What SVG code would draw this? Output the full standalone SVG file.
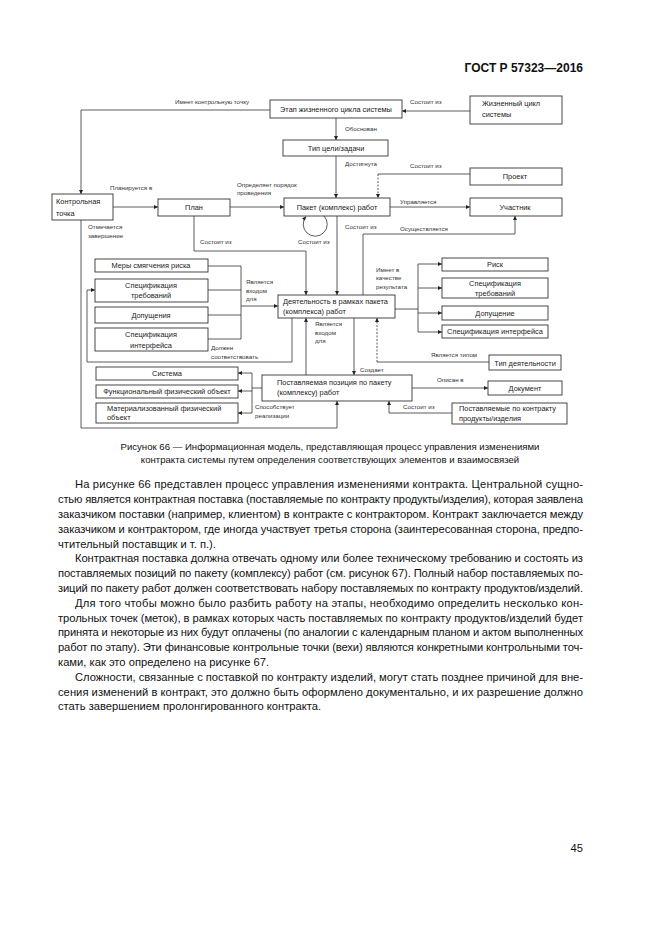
<svg xmlns="http://www.w3.org/2000/svg" width="661" height="935" viewBox="0 0 661 935">
<defs>
<style>
.bx{fill:#fff;stroke:#333;stroke-width:0.9}
.t{font-family:"Liberation Sans",Arial,sans-serif;font-size:7.4px;fill:#222}
.c{text-anchor:middle}
.lb{font-family:"Liberation Sans",Arial,sans-serif;font-size:6.2px;fill:#333}
.ln{fill:none;stroke:#333;stroke-width:0.8}
.ar{fill:none;stroke:#333;stroke-width:0.8;marker-end:url(#ah)}
.ds{stroke-dasharray:2,1.5}
.body{font-family:"Liberation Sans",Arial,sans-serif;font-size:11.2px;fill:#111}
.cap{font-family:"Liberation Sans",Arial,sans-serif;font-size:9.6px;fill:#111;text-anchor:middle}
</style>
<marker id="ah" viewBox="0 0 10 10" refX="10" refY="5" markerWidth="5" markerHeight="4" orient="auto" markerUnits="userSpaceOnUse">
<path d="M0,0 L10,5 L0,10 z" fill="#222"/>
</marker>
</defs>
<rect width="661" height="935" fill="#fff"/>
<text x="583" y="72" text-anchor="end" style="font-family:'Liberation Sans',Arial,sans-serif;font-size:12px;font-weight:bold;fill:#111">ГОСТ Р 57323—2016</text>

<g id="connectors">
<path class="ar" d="M470,111 H402"/>
<text class="lb" x="410" y="104">Состоит из</text>
<path class="ar" d="M270,110 H81 V194"/>
<text class="lb" x="175" y="104">Имеет контрольную точку</text>
<path class="ar" d="M336,118 V140"/>
<text class="lb" x="345" y="131">Обоснован</text>
<path class="ar" d="M336,156 V198"/>
<text class="lb" x="345" y="166">Достигнута</text>
<path class="ln" d="M470,174 H378"/>
<path class="ar ds" d="M378,174 V198"/>
<text class="lb" x="410" y="168">Состоит из</text>
<path class="ar" d="M113,207 H158"/>
<text class="lb" x="110" y="190">Планируется в</text>
<path class="ar" d="M230,207 H284"/>
<text class="lb" x="237" y="187">Определяет порядок</text>
<text class="lb" x="237" y="195">проведения</text>
<path class="ar" d="M390,207 H470"/>
<text class="lb" x="400" y="204">Управляется</text>
<path class="ar" d="M324,216 A12,12 0 1 1 306,216.5"/>
<text class="lb" x="298" y="244">Состоит из</text>
<path class="ar" d="M337,216 V295"/>
<text class="lb" x="345" y="229">Состоит из</text>
<path class="ar" d="M194,216 V251 H306 V295"/>
<text class="lb" x="200" y="244">Состоит из</text>
<path class="ar" d="M363,295 V234 H515 V216"/>
<text class="lb" x="400" y="231">Осуществляется</text>
<path class="ar" d="M81,220 V428 H337 V401"/>
<text class="lb" x="88" y="229">Отмечается</text>
<text class="lb" x="88" y="238">завершение</text>
<path class="ln" d="M208,266 H241 M208,290 H241 M208,315 H241 M208,339 H241 M241,266 V339"/>
<path class="ar" d="M241,306 H278"/>
<text class="lb" x="246" y="284">Является</text>
<text class="lb" x="246" y="293">входом</text>
<text class="lb" x="246" y="301">для</text>
<path class="ar" d="M292,318 V362 H87 V290 H95"/>
<text class="lb" x="211" y="350">Должен</text>
<text class="lb" x="211" y="359">соответствовать</text>
<path class="ln" d="M395,309 H418 M418,264 V332"/>
<path class="ar" d="M418,264 H442"/>
<path class="ar" d="M418,288 H442"/>
<path class="ar" d="M418,313 H442"/>
<path class="ar" d="M418,332 H442"/>
<text class="lb" x="376" y="272">Имеет в</text>
<text class="lb" x="376" y="280">качестве</text>
<text class="lb" x="376" y="289">результата</text>
<path class="ar" d="M306,375 V318"/>
<text class="lb" x="315" y="326">Является</text>
<text class="lb" x="315" y="335">входом</text>
<text class="lb" x="315" y="343">для</text>
<path class="ar" d="M354,318 V375"/>
<text class="lb" x="360" y="372">Создает</text>
<path class="ln" d="M489,362 H377"/>
<path class="ar ds" d="M377,362 V318"/>
<text class="lb" x="431" y="357">Является типом</text>
<path class="ar" d="M412,388 H488"/>
<text class="lb" x="437" y="382">Описан в</text>
<path class="ar" d="M452,413 H389 V401"/>
<text class="lb" x="403" y="409">Состоит из</text>
<path class="ln" d="M262,388 H252 M252,373 V413"/>
<path class="ar" d="M252,373 H238"/>
<path class="ar" d="M252,391 H238"/>
<path class="ar" d="M252,413 H238"/>
<text class="lb" x="255" y="409">Способствует</text>
<text class="lb" x="255" y="418">реализации</text>
</g>

<g id="etap"><rect class="bx" x="270" y="100" width="132" height="18"/><text class="t c" x="336" y="112">Этап жизненного цикла системы</text></g>
<g id="zhc"><rect class="bx" x="470" y="96" width="92" height="28"/><text class="t" x="482" y="106">Жизненный цикл</text><text class="t" x="482" y="117">системы</text></g>
<g id="tip"><rect class="bx" x="283" y="140" width="105" height="16"/><text class="t c" x="336" y="151">Тип цели/задачи</text></g>
<g id="proekt"><rect class="bx" x="470" y="168" width="92" height="17"/><text class="t c" x="515" y="179">Проект</text></g>
<g id="kt"><rect class="bx" x="52" y="194" width="61" height="26"/><text class="t" x="56" y="204">Контрольная</text><text class="t" x="56" y="216">точка</text></g>
<g id="plan"><rect class="bx" x="158" y="199" width="72" height="17"/><text class="t c" x="194" y="210">План</text></g>
<g id="paket"><rect class="bx" x="284" y="198" width="106" height="18"/><text class="t c" x="337" y="210">Пакет (комплекс) работ</text></g>
<g id="uch"><rect class="bx" x="470" y="198" width="92" height="18"/><text class="t c" x="515" y="210">Участник</text></g>
<g id="mery"><rect class="bx" x="95" y="259" width="113" height="13"/><text class="t c" x="151" y="268">Меры смягчения риска</text></g>
<g id="spec1"><rect class="bx" x="95" y="279" width="113" height="23"/><text class="t c" x="151" y="288">Спецификация</text><text class="t c" x="151" y="298">требований</text></g>
<g id="dop1"><rect class="bx" x="95" y="307" width="113" height="16"/><text class="t c" x="151" y="318">Допущения</text></g>
<g id="spint1"><rect class="bx" x="95" y="328" width="113" height="23"/><text class="t c" x="151" y="337">Спецификация</text><text class="t c" x="151" y="348">интерфейса</text></g>
<g id="deyat"><rect class="bx" x="278" y="295" width="117" height="23"/><text class="t" x="283" y="304">Деятельность в рамках пакета</text><text class="t" x="283" y="314">(комплекса) работ</text></g>
<g id="risk"><rect class="bx" x="442" y="258" width="106" height="13"/><text class="t c" x="495" y="267">Риск</text></g>
<g id="spec2"><rect class="bx" x="442" y="278" width="106" height="20"/><text class="t c" x="495" y="286">Спецификация</text><text class="t c" x="495" y="296">требований</text></g>
<g id="dop2"><rect class="bx" x="442" y="306" width="106" height="14"/><text class="t c" x="495" y="316">Допущение</text></g>
<g id="spint2"><rect class="bx" x="442" y="325" width="106" height="13"/><text class="t c" x="495" y="334">Спецификация интерфейса</text></g>
<g id="tipdey"><rect class="bx" x="489" y="355" width="72" height="15"/><text class="t c" x="525" y="366">Тип деятельности</text></g>
<g id="sistema"><rect class="bx" x="96" y="367" width="142" height="13"/><text class="t c" x="167" y="376">Система</text></g>
<g id="fun"><rect class="bx" x="96" y="385" width="142" height="13"/><text class="t c" x="167" y="394">Функциональный физический объект</text></g>
<g id="mat"><rect class="bx" x="96" y="403" width="142" height="20"/><text class="t" x="107" y="411">Материализованный физический</text><text class="t" x="107" y="420">объект</text></g>
<g id="post"><rect class="bx" x="262" y="375" width="150" height="26"/><text class="t" x="277" y="385">Поставляемая позиция по пакету</text><text class="t" x="277" y="395">(комплексу) работ</text></g>
<g id="doc"><rect class="bx" x="488" y="381" width="74" height="14"/><text class="t c" x="525" y="391">Документ</text></g>
<g id="prod"><rect class="bx" x="452" y="403" width="115" height="21"/><text class="t" x="459" y="411">Поставляемые по контракту</text><text class="t" x="459" y="421">продукты/изделия</text></g>

<text class="cap" x="330" y="450">Рисунок 66 — Информационная модель, представляющая процесс управления изменениями</text>
<text class="cap" x="330" y="463">контракта системы путем определения соответствующих элементов и взаимосвязей</text>

<g id="body">
<text class="body" x="75" y="488" textLength="508" lengthAdjust="spacing">На рисунке 66 представлен процесс управления изменениями контракта. Центральной сущно-</text>
<text class="body" x="58" y="503" textLength="525" lengthAdjust="spacing">стью является контрактная поставка (поставляемые по контракту продукты/изделия), которая заявлена</text>
<text class="body" x="58" y="518" textLength="525" lengthAdjust="spacing">заказчиком поставки (например, клиентом) в контракте с контрактором. Контракт заключается между</text>
<text class="body" x="58" y="533" textLength="525" lengthAdjust="spacing">заказчиком и контрактором, где иногда участвует третья сторона (заинтересованная сторона, предпо-</text>
<text class="body" x="58" y="548">чтительный поставщик и т. п.).</text>
<text class="body" x="75" y="562" textLength="508" lengthAdjust="spacing">Контрактная поставка должна отвечать одному или более техническому требованию и состоять из</text>
<text class="body" x="58" y="577" textLength="525" lengthAdjust="spacing">поставляемых позиций по пакету (комплексу) работ (см. рисунок 67). Полный набор поставляемых по-</text>
<text class="body" x="58" y="592" textLength="525" lengthAdjust="spacing">зиций по пакету работ должен соответствовать набору поставляемых по контракту продуктов/изделий.</text>
<text class="body" x="75" y="607" textLength="508" lengthAdjust="spacing">Для того чтобы можно было разбить работу на этапы, необходимо определить несколько кон-</text>
<text class="body" x="58" y="622" textLength="525" lengthAdjust="spacing">трольных точек (меток), в рамках которых часть поставляемых по контракту продуктов/изделий будет</text>
<text class="body" x="58" y="636" textLength="525" lengthAdjust="spacing">принята и некоторые из них будут оплачены (по аналогии с календарным планом и актом выполненных</text>
<text class="body" x="58" y="651" textLength="525" lengthAdjust="spacing">работ по этапу). Эти финансовые контрольные точки (вехи) являются конкретными контрольными точ-</text>
<text class="body" x="58" y="666">ками, как это определено на рисунке 67.</text>
<text class="body" x="75" y="681" textLength="508" lengthAdjust="spacing">Сложности, связанные с поставкой по контракту изделий, могут стать позднее причиной для вне-</text>
<text class="body" x="58" y="696" textLength="525" lengthAdjust="spacing">сения изменений в контракт, это должно быть оформлено документально, и их разрешение должно</text>
<text class="body" x="58" y="710">стать завершением пролонгированного контракта.</text>
</g>
<text class="body" x="583" y="852" text-anchor="end">45</text>
</svg>
